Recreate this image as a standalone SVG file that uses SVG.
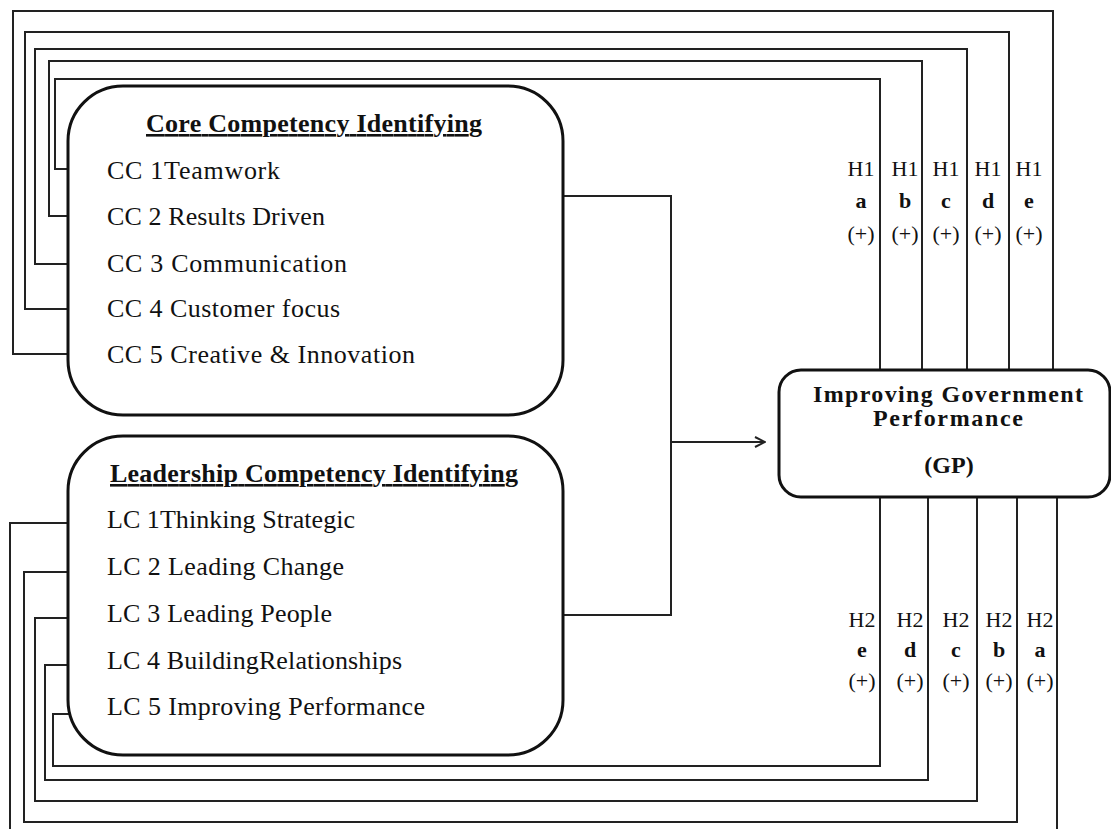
<svg xmlns="http://www.w3.org/2000/svg" width="1111" height="829" viewBox="0 0 1111 829">
<style>
.box{fill:#fff;stroke:#111;stroke-width:3}
.ln{fill:none;stroke:#222;stroke-width:2}
.t{font-family:"Liberation Serif","Times New Roman",serif;font-size:26px;fill:#111}
.g{font-family:"Liberation Serif","Times New Roman",serif;font-size:24px;fill:#111;font-weight:bold;text-anchor:middle}
.b{font-weight:bold}
.h{font-family:"Liberation Serif","Times New Roman",serif;font-size:22px;fill:#111;text-anchor:middle}
</style>
<defs>
<marker id="arr" viewBox="0 0 12 12" refX="11" refY="6" markerWidth="12" markerHeight="12" markerUnits="userSpaceOnUse" orient="auto">
<path d="M1,1 L11,6 L1,11" fill="none" stroke="#222" stroke-width="2"/>
</marker>
</defs>
<rect width="1111" height="829" fill="#fff"/>
<g id="connectors">
<polyline class="ln" points="70,354 13,354 13,11 1053,11 1053,370"/>
<polyline class="ln" points="70,309 25,309 25,32 1009,32 1009,370"/>
<polyline class="ln" points="70,264 35,264 35,49 967,49 967,370"/>
<polyline class="ln" points="70,216 49,216 49,61 922,61 922,370"/>
<polyline class="ln" points="70,169 55,169 55,79 880,79 880,370"/>
<polyline class="ln" points="70,523 10,523 10,829"/>
<polyline class="ln" points="1057,497 1057,829"/>
<polyline class="ln" points="70,572 24,572 24,822 1017,822 1017,497"/>
<polyline class="ln" points="70,618 35,618 35,801 977,801 977,497"/>
<polyline class="ln" points="70,665 45,665 45,780 928,780 928,497"/>
<polyline class="ln" points="70,714 53,714 53,766 880,766 880,497"/>
<polyline class="ln" points="563,196 671,196 671,615 563,615"/>
<line class="ln" x1="671" y1="442" x2="765" y2="442" marker-end="url(#arr)"/>
</g>
<g id="core">
<rect class="box" x="68" y="86" width="495" height="329" rx="55" ry="55"/>
<text class="t b" x="314" y="132" text-anchor="middle" text-decoration="underline" textLength="336" lengthAdjust="spacing">Core Competency Identifying</text>
<text class="t" x="107" y="179" textLength="173" lengthAdjust="spacing">CC 1Teamwork</text>
<text class="t" x="107" y="225" textLength="218" lengthAdjust="spacing">CC 2 Results Driven</text>
<text class="t" x="107" y="272" textLength="240" lengthAdjust="spacing">CC 3 Communication</text>
<text class="t" x="107" y="317" textLength="233" lengthAdjust="spacing">CC 4 Customer focus</text>
<text class="t" x="107" y="363" textLength="308" lengthAdjust="spacing">CC 5 Creative &amp; Innovation</text>
</g>
<g id="leadership">
<rect class="box" x="68" y="436" width="495" height="319" rx="55" ry="55"/>
<text class="t b" x="314" y="482" text-anchor="middle" text-decoration="underline" textLength="408" lengthAdjust="spacing">Leadership Competency Identifying</text>
<text class="t" x="107" y="528" textLength="248" lengthAdjust="spacing">LC 1Thinking Strategic</text>
<text class="t" x="107" y="575" textLength="237" lengthAdjust="spacing">LC 2 Leading Change</text>
<text class="t" x="107" y="622" textLength="225" lengthAdjust="spacing">LC 3 Leading People</text>
<text class="t" x="107" y="669" textLength="295" lengthAdjust="spacing">LC 4 BuildingRelationships</text>
<text class="t" x="107" y="715" textLength="318" lengthAdjust="spacing">LC 5 Improving Performance</text>
</g>
<g id="gp">
<rect class="box" x="779" y="370" width="331" height="127" rx="22" ry="22"/>
<text class="g" x="948" y="402" textLength="270" lengthAdjust="spacing">Improving Government</text>
<text class="g" x="948" y="426" textLength="150" lengthAdjust="spacing">Performance</text>
<text class="g" x="949" y="473">(GP)</text>
</g>
<g id="h1labels">
<text class="h" x="861" y="176">H1</text><text class="h b" x="861" y="208">a</text><text class="h" x="861" y="241">(+)</text>
<text class="h" x="905" y="176">H1</text><text class="h b" x="905" y="208">b</text><text class="h" x="905" y="241">(+)</text>
<text class="h" x="946" y="176">H1</text><text class="h b" x="946" y="208">c</text><text class="h" x="946" y="241">(+)</text>
<text class="h" x="988" y="176">H1</text><text class="h b" x="988" y="208">d</text><text class="h" x="988" y="241">(+)</text>
<text class="h" x="1029" y="176">H1</text><text class="h b" x="1029" y="208">e</text><text class="h" x="1029" y="241">(+)</text>
</g>
<g id="h2labels">
<text class="h" x="862" y="627">H2</text><text class="h b" x="862" y="657">e</text><text class="h" x="862" y="688">(+)</text>
<text class="h" x="910" y="627">H2</text><text class="h b" x="910" y="657">d</text><text class="h" x="910" y="688">(+)</text>
<text class="h" x="956" y="627">H2</text><text class="h b" x="956" y="657">c</text><text class="h" x="956" y="688">(+)</text>
<text class="h" x="999" y="627">H2</text><text class="h b" x="999" y="657">b</text><text class="h" x="999" y="688">(+)</text>
<text class="h" x="1040" y="627">H2</text><text class="h b" x="1040" y="657">a</text><text class="h" x="1040" y="688">(+)</text>
</g>
</svg>
